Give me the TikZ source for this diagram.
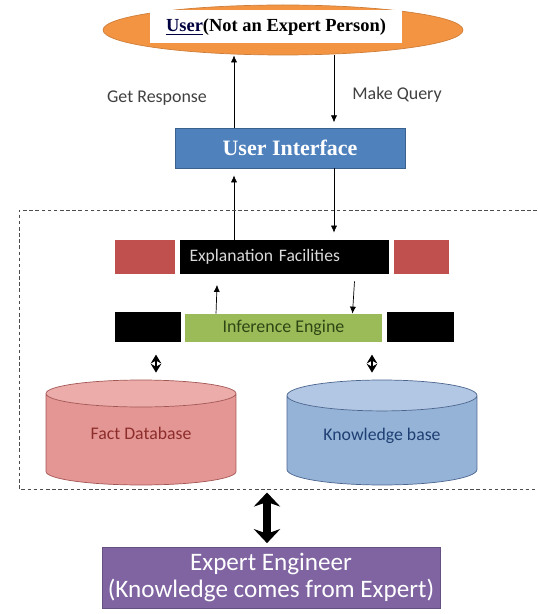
\documentclass[tikz,border=0pt]{standalone}
\usepackage{fontspec}
\setmainfont{Liberation Serif}
\newfontfamily\calibri{Carlito}
\usetikzlibrary{arrows.meta,shapes.geometric}
\definecolor{userorange}{RGB}{243,148,67}
\definecolor{uiblue}{RGB}{79,129,189}
\definecolor{expred}{RGB}{192,80,77}
\definecolor{iegreen}{RGB}{155,187,89}
\definecolor{iegreentext}{RGB}{45,70,20}
\definecolor{expurple}{RGB}{128,100,162}
\definecolor{dbredbody}{RGB}{228,150,148}
\definecolor{dbredtop}{RGB}{236,172,170}
\definecolor{dbredtext}{RGB}{140,45,43}
\definecolor{dbbluebody}{RGB}{149,179,215}
\definecolor{dbbluetop}{RGB}{178,199,227}
\definecolor{dbbluetext}{RGB}{31,63,115}

\begin{document}
\begin{tikzpicture}[x=0.02cm, y=-0.02cm, >={Latex[length=4pt,width=3.5pt]},
  lbl/.style={font=\calibri\fontsize{10.2}{12}\selectfont, text=black!75},
  bar/.style={minimum height=0.68cm, inner sep=0pt},
  dbase/.style={cylinder, shape border rotate=90, aspect=0.24, minimum width=3.8cm,
    minimum height=2.1cm, cylinder uses custom fill, anchor=shape center,
    font=\calibri\fontsize{10.1}{12}\selectfont},
  twoway/.style={{Stealth[length=5pt,width=6pt]}-{Stealth[length=5pt,width=6pt]}, line width=1.6pt},
  bigway/.style={{Stealth[length=8pt,width=15pt]}-{Stealth[length=8pt,width=15pt]}, line width=4.5pt}]
  \useasboundingbox (0,0) rectangle (537,614);
  \node[ellipse, fill=userorange, draw=userorange!85!black, minimum width=7.2cm, minimum height=1.0cm] (user) at (283,30) {};
  \node[fill=white, minimum width=5.04cm, minimum height=0.66cm, font=\bfseries\fontsize{10.5}{12}\selectfont] (usertxt) at (276,27) {\textcolor{black!75!blue}{\underline{User}}(Not an Expert Person)};
  \node[fill=uiblue, draw=uiblue!75!black, minimum width=4.6cm, minimum height=0.8cm, text=white, font=\bfseries\fontsize{12.5}{14}\selectfont] (ui) at (290,148) {User Interface};
  \coordinate (lx) at (234,0);
  \coordinate (rx) at (334,0);
  \draw[->] (ui.north -| lx) -- (user.south -| lx);
  \draw[->] (user.south -| rx) -- ([yshift=3pt]ui.north -| rx);
  \node[lbl] (resp) at (157,98) {Get Response};
  \node[lbl] (query) at (397,95) {Make Query};

  \node[bar, fill=expred, minimum width=1.2cm] (exl) at (145,257) {};
  \node[bar, fill=black, minimum width=4.18cm, text width=3.8cm, align=left, text=white!85!black, font=\calibri\fontsize{10}{12}\selectfont] (exm) at (284.5,257) {Explanation Facilities};
  \node[bar, fill=expred, minimum width=1.1cm] (exr) at (421.5,257) {};
  \draw[->] (exm.north -| lx) -- ([yshift=-4pt]ui.south -| lx);
  \draw[->] (ui.south -| rx) -- ([yshift=4pt]exm.north -| rx);

  \node[bar, fill=black, minimum width=1.32cm, minimum height=0.6cm] (iel) at (148,327) {};
  \node[bar, fill=iegreen, minimum width=3.94cm, minimum height=0.56cm, text=iegreentext, font=\calibri\fontsize{10.2}{12}\selectfont] (ie) at (283.5,328) {Inference Engine};
  \node[bar, fill=black, minimum width=1.34cm, minimum height=0.6cm] (ier) at (420.5,327) {};
  \draw[->] ([xshift=-1.35cm]ie.north) -- ([xshift=-1.35cm, yshift=-6pt]exm.south);
  \draw[->] ([xshift=1.4cm, yshift=-4pt]exm.south) -- ([xshift=1.38cm]ie.north);

  \node[dbase, draw=dbredtext!80, cylinder body fill=dbredbody, cylinder end fill=dbredtop, text=dbredtext] (fact) at (141,432.5) {\smash{\raisebox{1.5pt}{Fact Database}}};
  \node[dbase, draw=dbbluetext!80, cylinder body fill=dbbluebody, cylinder end fill=dbbluetop, text=dbbluetext] (know) at (382,432.5) {\smash{\raisebox{1.5pt}{Knowledge base}}};
  \draw[twoway, shorten <=7pt, shorten >=4pt] ([xshift=0.16cm]iel.south) -- ([xshift=0.16cm]iel.south |- fact.north);
  \draw[twoway, shorten <=7pt, shorten >=4pt] ([xshift=-0.2cm]know.north |- ie.south) -- ([xshift=-0.2cm]know.north);

  \draw[dashed, black!70, dash pattern=on 2pt off 1.5pt] (537,210) -- (19,210) -- (19,489) -- (537,489);

  \node[fill=expurple, draw=expurple!80!black, minimum width=6.76cm, minimum height=1.22cm, text=white, align=center, font=\calibri\fontsize{14.3}{15}\selectfont] (expert) at (271,577.5) {Expert Engineer\\(Knowledge comes from Expert)};
  \coordinate (sysbot) at (267,489);
  \draw[bigway, shorten <=2pt, shorten >=2pt] (expert.north -| sysbot) -- (sysbot);
\end{tikzpicture}
\end{document}
